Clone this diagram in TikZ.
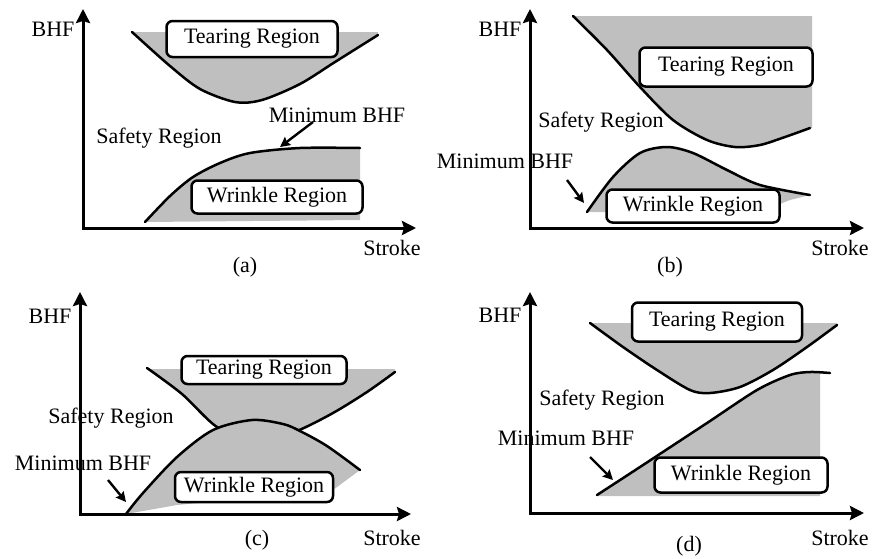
\documentclass[tikz,border=0pt]{standalone}
\usepackage{fontspec}
\setmainfont{Liberation Serif}
\usetikzlibrary{arrows.meta}
\tikzset{
  shadefill/.style={fill=black!25},
  curveline/.style={line width=2.5pt, line cap=round, line join=round},
  axisline/.style={line width=3pt, line join=miter, {Stealth[length=14pt,width=14pt,inset=2pt]}-{Stealth[length=14pt,width=14pt,inset=2pt]}},
  regionbox/.style={draw, line width=2.5pt, fill=white, rounded corners=6pt, inner sep=0pt, font=\fontsize{22}{24}\selectfont},
  lbl/.style={inner sep=0pt, anchor=base, font=\fontsize{22}{24}\selectfont},
  pointer/.style={line width=2.4pt, -{Stealth[length=10pt,width=10pt,inset=1.5pt]}}
}
\begin{document}
\begin{tikzpicture}[x=1pt,y=-1pt]
\useasboundingbox (0,0) rectangle (881,558);

% ================= (a) =================
\fill[shadefill] plot[smooth] coordinates {(132,32) (170,66) (200,89) (235,102) (262,100) (300,84) (335,62) (378,35)} -- (378,32) -- cycle;
\draw[curveline] plot[smooth] coordinates {(132,32) (170,66) (200,89) (235,102) (262,100) (300,84) (335,62) (378,35)};
\fill[shadefill] plot[smooth] coordinates {(145,222) (170,196) (193,177) (220,163) (250,153) (300,148) (360,148)} -- (360,220) -- cycle;
\draw[curveline] plot[smooth] coordinates {(145,222) (170,196) (193,177) (220,163) (250,153) (300,148) (360,148)};
\node[regionbox, minimum width=171pt, minimum height=36pt] (a-tear) at (252,39) {Tearing Region};
\node[regionbox, minimum width=171pt, minimum height=33pt] (a-wr) at (277,197) {Wrinkle Region};
\node[lbl] (a-bhf) at (53,36) {BHF};
\node[lbl] (a-stroke) at (392,255) {Stroke};
\node[lbl] (a-cap) at (245,272) {(a)};
\node[lbl] (a-safe) at (159,143) {Safety Region};
\node[lbl] (a-min) at (337,122) {Minimum BHF};
\coordinate (a-p1) at (313,122);
\coordinate (a-p2) at (280,147);
\draw[pointer] (a-p1) -- (a-p2);
\coordinate (a-o) at (83,228);
\coordinate (a-y) at (83,9);
\coordinate (a-x) at (416,228);
\draw[axisline] (a-y) -- (a-o) -- (a-x);

% ================= (b) =================
\fill[shadefill] plot[smooth] coordinates {(573,16) (607,50) (640,87) (673,120) (707,140) (735,147) (760,145) (785,137) (810,128)} -- (812,128) -- (812,16) -- cycle;
\draw[curveline] plot[smooth] coordinates {(573,16) (607,50) (640,87) (673,120) (707,140) (735,147) (760,145) (785,137) (810,128)};
\fill[shadefill] plot[smooth] coordinates {(587,212) (613,177) (640,153) (667,147) (693,153) (727,170) (760,185) (810,195)} -- (790,200) -- (760,212) -- cycle;
\draw[curveline] plot[smooth] coordinates {(587,212) (613,177) (640,153) (667,147) (693,153) (727,170) (760,185) (810,195)};
\node[regionbox, minimum width=173pt, minimum height=39pt] (b-tear) at (726,67) {Tearing Region};
\node[regionbox, minimum width=173pt, minimum height=33pt] (b-wr) at (693,206) {Wrinkle Region};
\node[lbl] (b-bhf) at (500,36) {BHF};
\node[lbl] (b-stroke) at (840,255) {Stroke};
\node[lbl] (b-cap) at (670,272) {(b)};
\node[lbl] (b-safe) at (601,127) {Safety Region};
\node[lbl] (b-min) at (505,168) {Minimum BHF};
\coordinate (b-p1) at (567,180);
\coordinate (b-p2) at (584,203);
\draw[pointer] (b-p1) -- (b-p2);
\coordinate (b-o) at (530,228);
\coordinate (b-y) at (530,9);
\coordinate (b-x) at (864,228);
\draw[axisline] (b-y) -- (b-o) -- (b-x);

% ================= (c) =================
\fill[shadefill] plot[smooth] coordinates {(147,368) (182,394) (217,427) (257,444) (297,431) (333,413) (367,392) (395,372)} -- (395,369) -- (147,369) -- cycle;
\draw[curveline] plot[smooth] coordinates {(147,368) (182,394) (217,427) (257,444) (297,431) (333,413) (367,392) (395,372)};
\fill[shadefill] plot[smooth] coordinates {(126,514) (143,493) (177,457) (213,430) (252,420) (283,424) (300,431) (327,446) (360,470)} -- (333,490) -- (177,505) -- cycle;
\draw[curveline] plot[smooth] coordinates {(126,514) (143,493) (177,457) (213,430) (252,420) (283,424) (300,431) (327,446) (360,470)};
\node[regionbox, minimum width=165pt, minimum height=28pt] (c-tear) at (264,370) {Tearing Region};
\node[regionbox, minimum width=158pt, minimum height=30pt] (c-wr) at (254,487) {Wrinkle Region};
\node[lbl] (c-bhf) at (50,323) {BHF};
\node[lbl] (c-stroke) at (392,545) {Stroke};
\node[lbl] (c-cap) at (257,545) {(c)};
\node[lbl] (c-safe) at (111,423) {Safety Region};
\node[lbl] (c-min) at (83,470) {Minimum BHF};
\coordinate (c-p1) at (108,480);
\coordinate (c-p2) at (126,502);
\draw[pointer] (c-p1) -- (c-p2);
\coordinate (c-o) at (80,514);
\coordinate (c-y) at (80,292);
\coordinate (c-x) at (411,514);
\draw[axisline] (c-y) -- (c-o) -- (c-x);

% ================= (d) =================
\fill[shadefill] plot[smooth] coordinates {(590,323) (623,347) (657,370) (690,390) (710,393) (740,387) (773,370) (807,347) (837,325)} -- (837,323) -- cycle;
\draw[curveline] plot[smooth] coordinates {(590,323) (623,347) (657,370) (690,390) (710,393) (740,387) (773,370) (807,347) (837,325)};
\fill[shadefill] plot[smooth] coordinates {(597,495) (640,467) (707,423) (757,390) (790,375) (810,372) (830,373)} -- (820,373) -- (820,496) -- (597,496) -- cycle;
\draw[curveline] plot[smooth] coordinates {(597,495) (640,467) (707,423) (757,390) (790,375) (810,372) (830,373)};
\node[regionbox, minimum width=170pt, minimum height=39pt] (d-tear) at (717,322) {Tearing Region};
\node[regionbox, minimum width=173pt, minimum height=35pt] (d-wr) at (741,475) {Wrinkle Region};
\node[lbl] (d-bhf) at (500,322) {BHF};
\node[lbl] (d-stroke) at (840,545) {Stroke};
\node[lbl] (d-cap) at (689,551) {(d)};
\node[lbl] (d-safe) at (602,405) {Safety Region};
\node[lbl] (d-min) at (566,445) {Minimum BHF};
\coordinate (d-p1) at (590,457);
\coordinate (d-p2) at (613,480);
\draw[pointer] (d-p1) -- (d-p2);
\coordinate (d-o) at (530,513);
\coordinate (d-y) at (530,292);
\coordinate (d-x) at (864,513);
\draw[axisline] (d-y) -- (d-o) -- (d-x);
\end{tikzpicture}
\end{document}
